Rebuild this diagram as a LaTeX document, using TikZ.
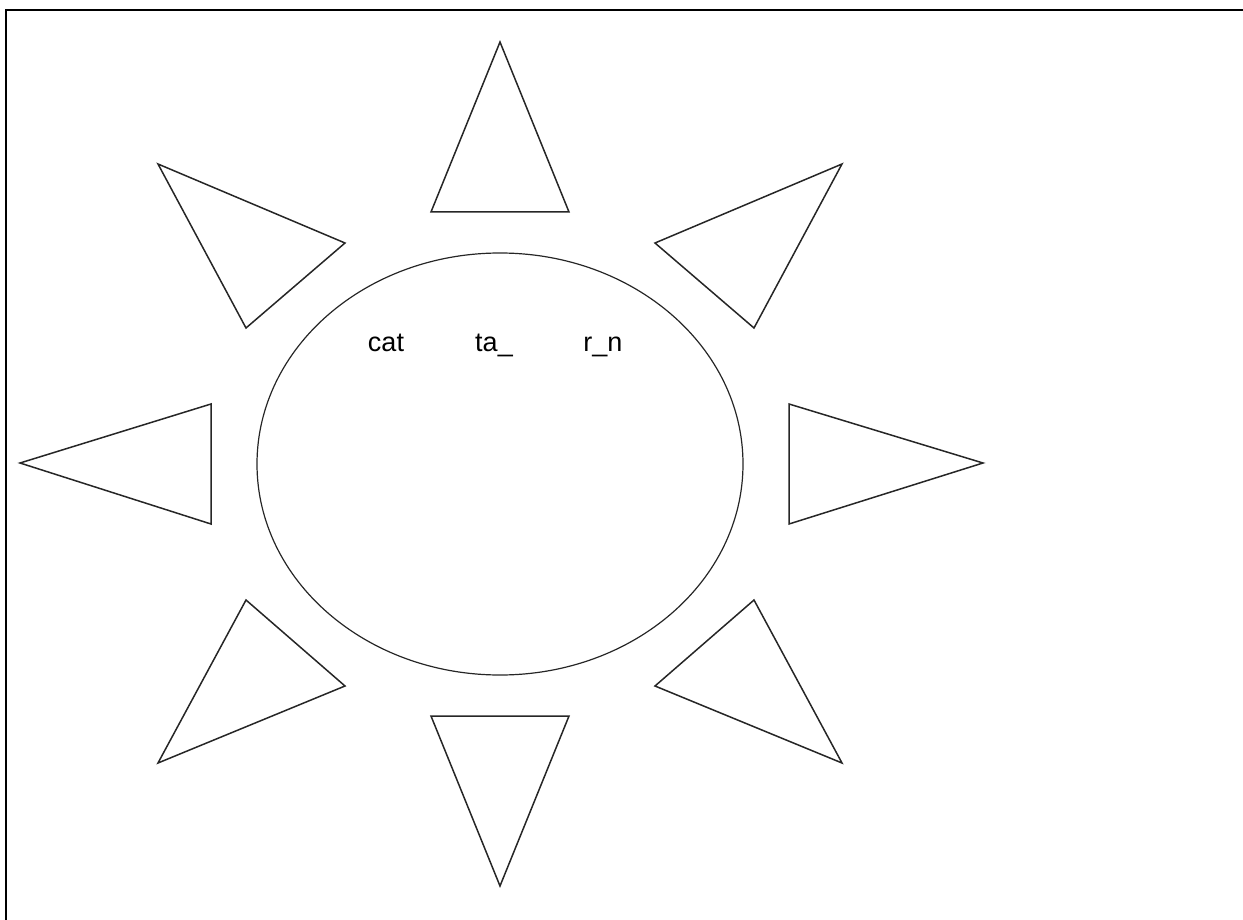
\documentclass[tikz,border=0pt]{standalone}
\usepackage{fontspec}
\setmainfont{Liberation Sans}
\begin{document}
\begin{tikzpicture}[x=1pt,y=-1pt,
  ray/.style={draw=black!85,line width=1.5pt,line join=miter},
  sunline/.style={draw=black!85,line width=1.2pt},
  frameline/.style={draw=black,line width=2.4pt},
  word/.style={anchor=base,inner sep=0pt,font=\fontsize{27}{31}\selectfont}]
\useasboundingbox (0,0) rectangle (1243,920);
% frame (top and left edges)
\draw[frameline] (6,920) -- (6,10) -- (1243,10);
% sun body
\draw[sunline] (500,464) ellipse [x radius=243, y radius=211];
% rays
\draw[ray] (500,42) -- (569,212) -- (431,212) -- cycle;
\draw[ray] (500,886) -- (569,716) -- (431,716) -- cycle;
\draw[ray] (20,463) -- (211,404) -- (211,524) -- cycle;
\draw[ray] (983,463) -- (789,404) -- (789,524) -- cycle;
\draw[ray] (158,164) -- (345,243) -- (246,328) -- cycle;
\draw[ray] (842,164) -- (655,243) -- (754,328) -- cycle;
\draw[ray] (158,763) -- (345,686) -- (246,600) -- cycle;
\draw[ray] (842,763) -- (655,686) -- (754,600) -- cycle;
% words
\node[word] (w1) at (386,351) {cat};
\node[word] (w2) at (494,351) {ta\_};
\node[word] (w3) at (603,351) {r\_n};
\end{tikzpicture}
\end{document}
